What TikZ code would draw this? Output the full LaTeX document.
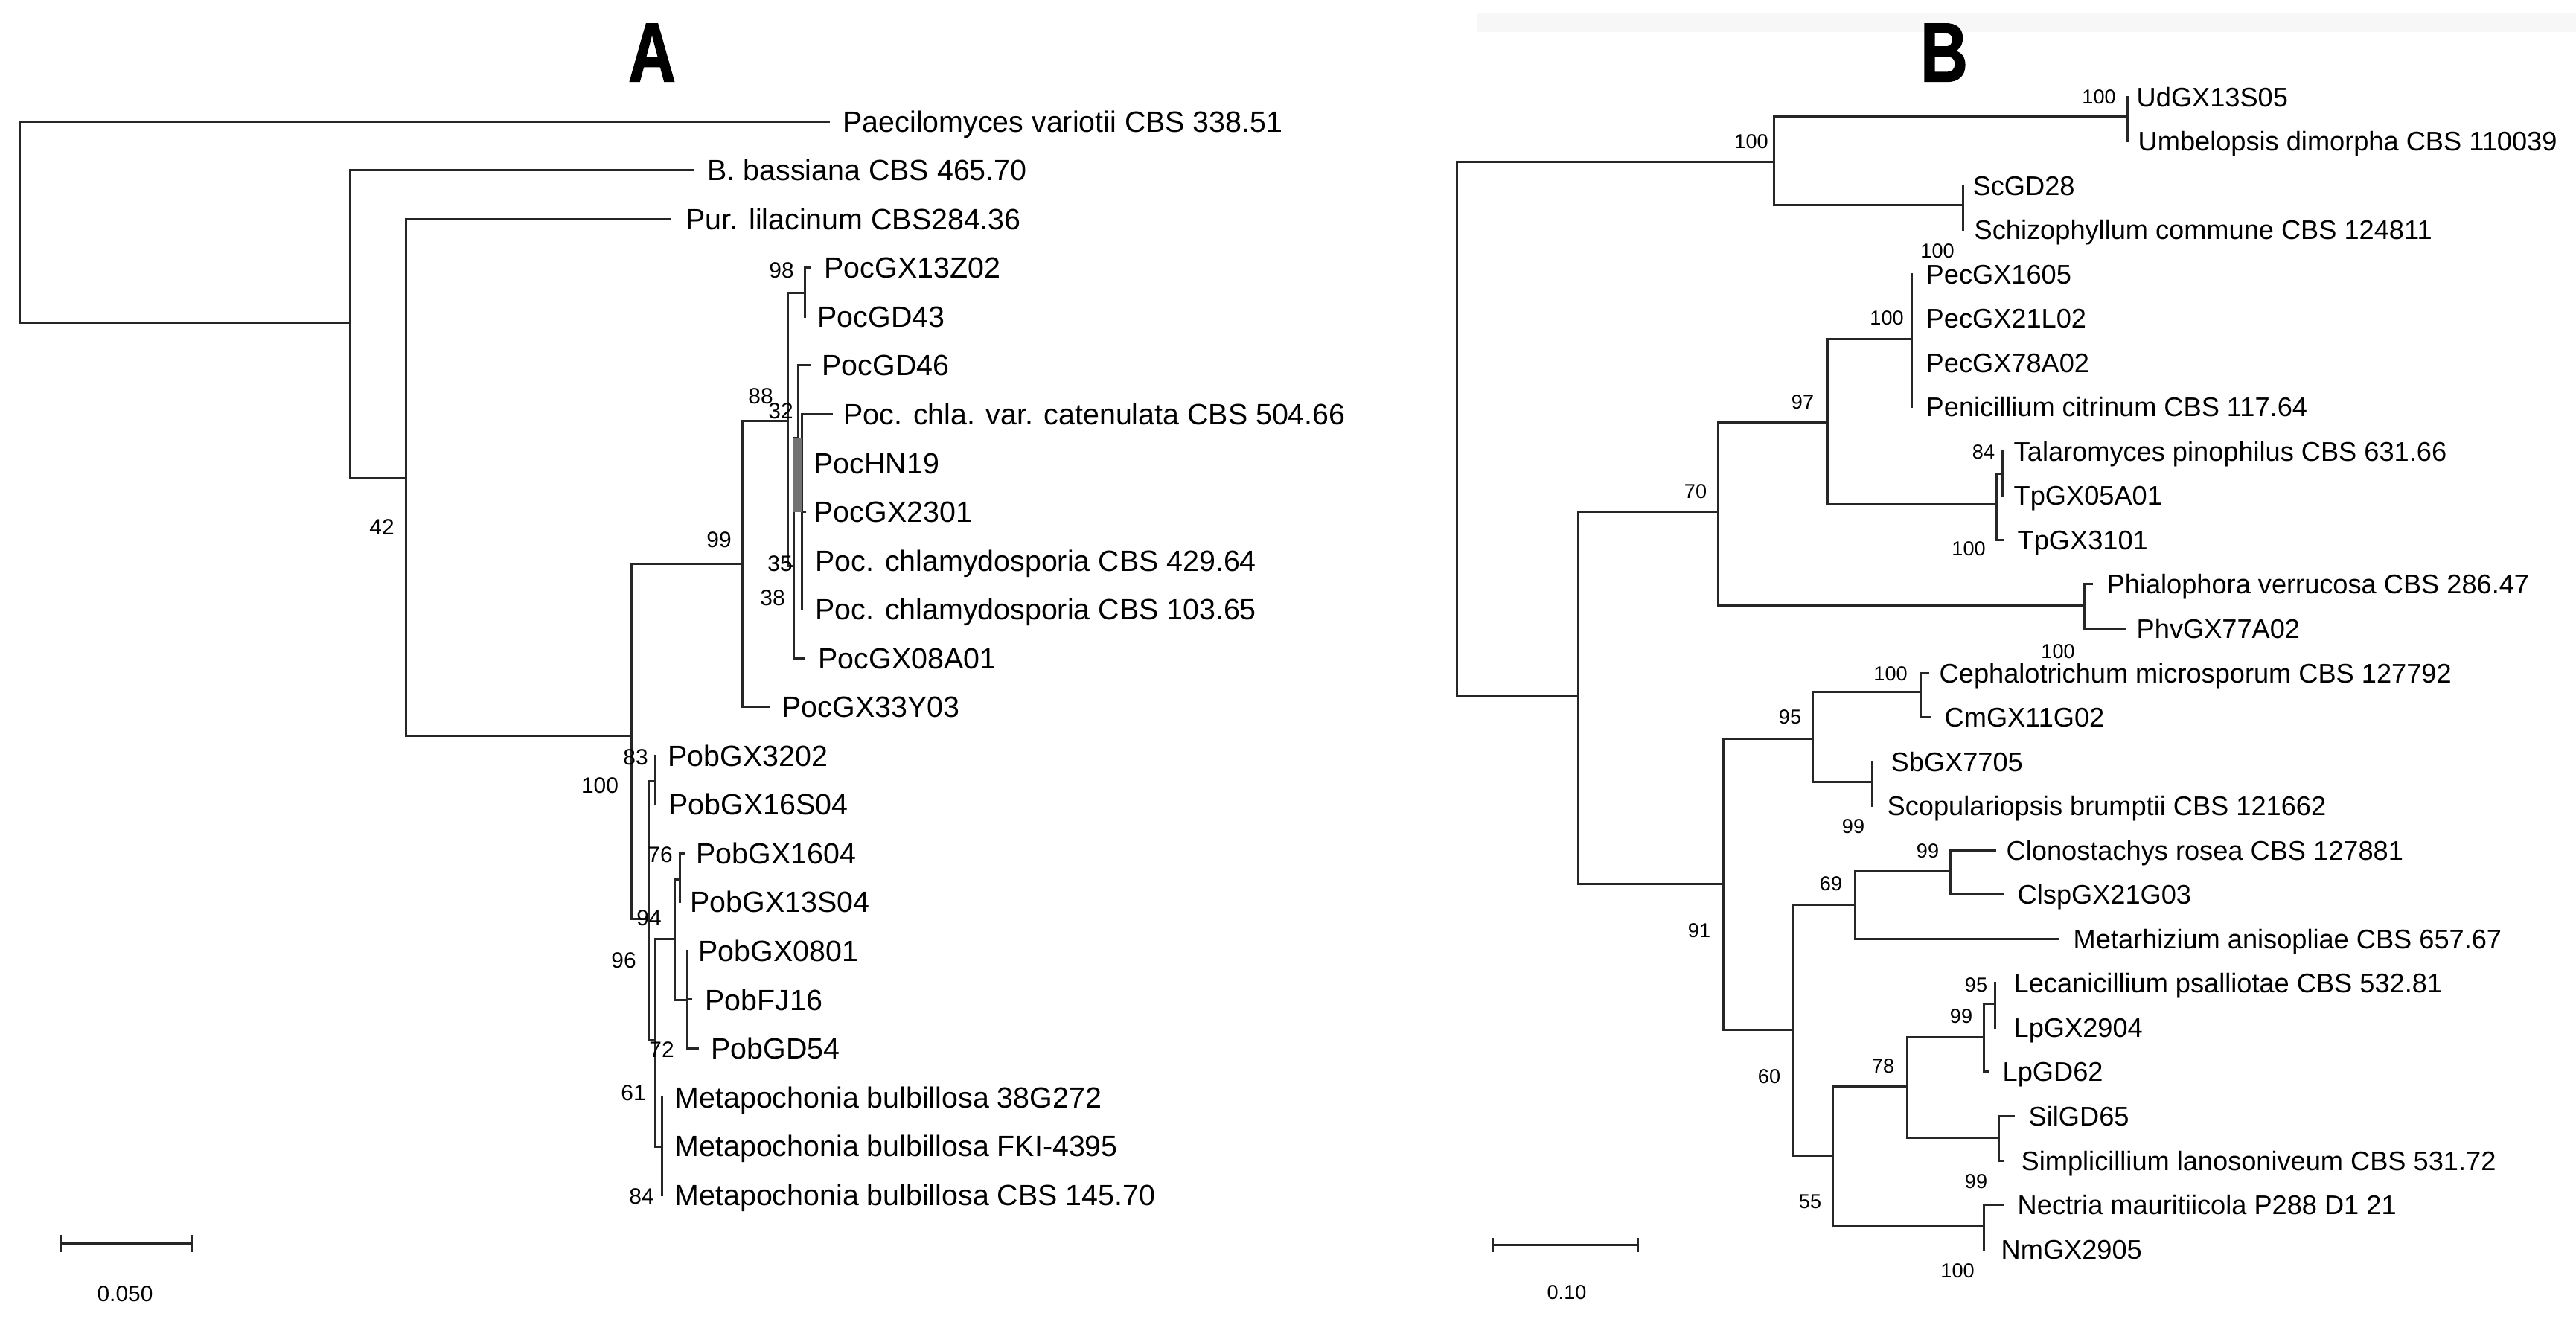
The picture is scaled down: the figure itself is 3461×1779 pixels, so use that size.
\documentclass[tikz,border=0pt]{standalone}
\usepackage{fontspec}
\setmainfont{Liberation Sans}
\newfontfamily\titlefont[FakeStretch=0.78, BoldFeatures={FakeBold=1.5}]{Liberation Sans}
\begin{document}
\begin{tikzpicture}[x=0.1mm,y=-0.1mm]
\tikzset{
 br/.style={line width=0.3mm, draw=black!85, line cap=rect},
 tipA/.style={font=\fontsize{11.2}{13}\selectfont, anchor=base west, inner sep=0pt, yshift=-1.41mm},
 tipB/.style={font=\fontsize{10.3}{12}\selectfont, anchor=base west, inner sep=0pt, yshift=-1.3mm},
 bsA/.style={font=\fontsize{8.5}{10}\selectfont, inner sep=0pt, text height=6.1pt, text depth=0pt, anchor=center},
 bsB/.style={font=\fontsize{7.7}{9}\selectfont, inner sep=0pt, text height=5.5pt, text depth=0pt, anchor=center},
 ttl/.style={font=\titlefont\bfseries\fontsize{32}{35}\selectfont, inner sep=0pt, text height=22.9pt, text depth=0pt, anchor=center},
}
\fill[white] (0,0) rectangle (3461,1779);
\useasboundingbox (0,0) rectangle (3461,1779);
\fill[black!3] (1985,17) rectangle (3461,43);

% ---------------- Titles
\node[ttl] (titleA) at (876,69) {A};
\node[ttl] (titleB) at (2612,69) {B};

% ================= TREE A =================
\coordinate (rA) at (26,298);
\coordinate (nA1) at (470,433);
\coordinate (nA2) at (545,642);
\coordinate (nA3) at (848,988);
\coordinate (nP99) at (997,757);
\coordinate (nP88) at (1058,565);
\coordinate (nP98) at (1081,393);
\coordinate (nP35) at (1066,760);
\coordinate (nP32) at (1072,588);
\coordinate (nP38) at (1077,640);
\coordinate (nPob) at (871,1234);
\coordinate (nP83) at (880,1049);
\coordinate (nP72) at (880,1397);
\coordinate (nP906) at (906,1261);
\coordinate (nP76) at (913,1181);
\coordinate (nP923) at (923,1343);
\coordinate (nMeta) at (889,1540);

% tips (line ends)
\coordinate (tPae) at (1113,163.0);
\coordinate (tBb) at (931,228.6);
\coordinate (tPur) at (900,294.1);
\coordinate (tP13) at (1088,359.7);
\coordinate (tP43) at (1081,425.2);
\coordinate (tP46) at (1087,490.8);
\coordinate (tPcat) at (1117,556.3);
\coordinate (tHN) at (1077,621.9);
\coordinate (tP23) at (1081,687.4);
\coordinate (tP429) at (1077,753.0);
\coordinate (tP103) at (1077,818.5);
\coordinate (tP08) at (1080,884.1);
\coordinate (tP33) at (1032,949.6);
\coordinate (tB32) at (880,1015.2);
\coordinate (tB16) at (880,1080.7);
\coordinate (tB1604) at (918,1146.3);
\coordinate (tB13) at (913,1211.8);
\coordinate (tB08) at (923,1277.4);
\coordinate (tBFJ) at (928,1342.9);
\coordinate (tBGD) at (937,1408.5);
\coordinate (tM38) at (889,1474.0);
\coordinate (tMF) at (889,1539.6);
\coordinate (tMC) at (889,1605.1);

% branches
\draw[br] (rA) |- (tPae);
\draw[br] (rA) |- (nA1);
\draw[br] (nA1) |- (tBb);
\draw[br] (nA1) |- (nA2);
\draw[br] (nA2) |- (tPur);
\draw[br] (nA2) |- (nA3);
\draw[br] (nA3) |- (nP99);
\draw[br] (nA3) |- (nPob);
\draw[br] (nP99) |- (nP88);
\draw[br] (nP99) |- (tP33);
\draw[br] (nP88) |- (nP98);
\draw[br] (nP88) |- (nP35);
\draw[br] (nP98) |- (tP13);
\draw[br] (nP98) |- (tP43);
\draw[br] (nP35) |- (nP32);
\draw[br] (nP35) |- (tP08);
\draw[br] (nP32) |- (tP46);
\draw[br] (nP32) |- (nP38);
\draw[br] (nP38) |- (tPcat);
\draw[br] (nP38) |- (tHN);
\draw[br] (nP38) |- (tP23);
\draw[br] (nP38) |- (tP429);
\draw[br] (nP38) |- (tP103);
\fill[black!55] (1065,588) rectangle (1077,688);
\draw[br] (nPob) |- (nP83);
\draw[br] (nPob) |- (nP72);
\draw[br] (nP83) |- (tB32);
\draw[br] (nP83) |- (tB16);
\draw[br] (nP72) |- (nP906);
\draw[br] (nP72) |- (nMeta);
\draw[br] (nP906) |- (nP76);
\draw[br] (nP906) |- (nP923);
\draw[br] (nP76) |- (tB1604);
\draw[br] (nP76) |- (tB13);
\draw[br] (nP923) |- (tB08);
\draw[br] (nP923) |- (tBFJ);
\draw[br] (nP923) |- (tBGD);
\draw[br] (nMeta) |- (tM38);
\draw[br] (nMeta) |- (tMF);
\draw[br] (nMeta) |- (tMC);

% tip labels
\node[tipA] (lPae) at (1132,163.0) {Paecilomyces variotii CBS 338.51};
\node[tipA] (lBb) at (950,228.6) {B. bassiana CBS 465.70};
\node[tipA] (lPur) at (921,294.1) {Pur. lilacinum CBS284.36};
\node[tipA] (lP13) at (1107,359.7) {PocGX13Z02};
\node[tipA] (lP43) at (1098,425.2) {PocGD43};
\node[tipA] (lP46) at (1104,490.8) {PocGD46};
\node[tipA] (lPcat) at (1133,556.3) {Poc. chla. var. catenulata CBS 504.66};
\node[tipA] (lHN) at (1093,621.9) {PocHN19};
\node[tipA] (lP23) at (1093,687.4) {PocGX2301};
\node[tipA] (lP429) at (1095,753.0) {Poc. chlamydosporia CBS 429.64};
\node[tipA] (lP103) at (1095,818.5) {Poc. chlamydosporia CBS 103.65};
\node[tipA] (lP08) at (1099,884.1) {PocGX08A01};
\node[tipA] (lP33) at (1050,949.6) {PocGX33Y03};
\node[tipA] (lB32) at (897,1015.2) {PobGX3202};
\node[tipA] (lB16) at (898,1080.7) {PobGX16S04};
\node[tipA] (lB1604) at (935,1146.3) {PobGX1604};
\node[tipA] (lB13) at (927,1211.8) {PobGX13S04};
\node[tipA] (lB08) at (938,1277.4) {PobGX0801};
\node[tipA] (lBFJ) at (947,1342.9) {PobFJ16};
\node[tipA] (lBGD) at (955,1408.5) {PobGD54};
\node[tipA] (lM38) at (906,1474.0) {Metapochonia bulbillosa 38G272};
\node[tipA] (lMF) at (906,1539.6) {Metapochonia bulbillosa FKI-4395};
\node[tipA] (lMC) at (906,1605.1) {Metapochonia bulbillosa CBS 145.70};

% bootstrap A
\node[bsA] (a42) at (513,708) {42};
\node[bsA] (a99) at (966,725) {99};
\node[bsA] (a98) at (1050,363) {98};
\node[bsA] (a88) at (1022,532) {88};
\node[bsA] (a32) at (1049,552) {32};
\node[bsA] (a35) at (1048,757) {35};
\node[bsA] (a38) at (1038,803) {38};
\node[bsA] (a83) at (854,1017) {83};
\node[bsA] (a100) at (806,1055) {100};
\node[bsA] (a76) at (887,1148) {76};
\node[bsA] (a94) at (872,1233) {94};
\node[bsA] (a96) at (838,1290) {96};
\node[bsA] (a72) at (889,1410) {72};
\node[bsA] (a61) at (851,1468) {61};
\node[bsA] (a84) at (862,1607) {84};

% scale A
\coordinate (sA1) at (81,1670);
\coordinate (sA2) at (257,1670);
\draw[br] (sA1) -- (sA2);
\draw[br] ([yshift=1mm]sA1) -- ([yshift=-1mm]sA1);
\draw[br] ([yshift=1mm]sA2) -- ([yshift=-1mm]sA2);
\node[bsA] (scA) at (168,1738) {0.050};

% ================= TREE B =================
\coordinate (rB) at (1957,576);
\coordinate (nU) at (2383,217);
\coordinate (nUd) at (2858,156);
\coordinate (nSc) at (2637,275);
\coordinate (nB2) at (2120,935);
\coordinate (n70) at (2308,687);
\coordinate (n97) at (2455,567);
\coordinate (nPec) at (2568,455);
\coordinate (nT100) at (2682,677);
\coordinate (nT84) at (2690,636);
\coordinate (nPh) at (2800,813);
\coordinate (n91) at (2315,1187);
\coordinate (n95) at (2435,992);
\coordinate (nCe) at (2580,929);
\coordinate (nSb) at (2515,1050);
\coordinate (n60) at (2408,1383);
\coordinate (n69) at (2492,1215);
\coordinate (nCl) at (2620,1170);
\coordinate (n55) at (2462,1552);
\coordinate (n78) at (2562,1459);
\coordinate (nL99) at (2665,1393);
\coordinate (nL95) at (2680,1348);
\coordinate (nSi) at (2685,1528);
\coordinate (nNm) at (2665,1646);

\coordinate (tUd) at (2858,130.0);
\coordinate (tUm) at (2858,189.5);
\coordinate (tSc) at (2637,249.1);
\coordinate (tSch) at (2637,308.6);
\coordinate (tPe1) at (2568,368.2);
\coordinate (tPe2) at (2568,427.7);
\coordinate (tPe3) at (2568,487.2);
\coordinate (tPe4) at (2568,546.8);
\coordinate (tTal) at (2690,606.3);
\coordinate (tTp05) at (2690,665.9);
\coordinate (tTp31) at (2690,725.4);
\coordinate (tPhi) at (2810,784.9);
\coordinate (tPhv) at (2855,844.5);
\coordinate (tCe) at (2590,904.0);
\coordinate (tCm) at (2592,963.6);
\coordinate (tSb) at (2515,1023.1);
\coordinate (tSco) at (2515,1082.6);
\coordinate (tClo) at (2680,1142.2);
\coordinate (tCls) at (2690,1201.7);
\coordinate (tMet) at (2765,1261.3);
\coordinate (tLec) at (2680,1320.8);
\coordinate (tLp29) at (2680,1380.3);
\coordinate (tLp62) at (2670,1439.9);
\coordinate (tSil) at (2705,1499.4);
\coordinate (tSim) at (2690,1559.0);
\coordinate (tNec) at (2690,1618.5);
\coordinate (tNm) at (2665,1678.0);

\draw[br] (rB) |- (nU);
\draw[br] (rB) |- (nB2);
\draw[br] (nU) |- (nUd);
\draw[br] (nU) |- (nSc);
\draw[br] (nUd) |- (tUd);
\draw[br] (nUd) |- (tUm);
\draw[br] (nSc) |- (tSc);
\draw[br] (nSc) |- (tSch);
\draw[br] (nB2) |- (n70);
\draw[br] (nB2) |- (n91);
\draw[br] (n70) |- (n97);
\draw[br] (n70) |- (nPh);
\draw[br] (n97) |- (nPec);
\draw[br] (n97) |- (nT100);
\draw[br] (nPec) |- (tPe1);
\draw[br] (nPec) |- (tPe2);
\draw[br] (nPec) |- (tPe3);
\draw[br] (nPec) |- (tPe4);
\draw[br] (nT100) |- (nT84);
\draw[br] (nT100) |- (tTp31);
\draw[br] (nT84) |- (tTal);
\draw[br] (nT84) |- (tTp05);
\draw[br] (nPh) |- (tPhi);
\draw[br] (nPh) |- (tPhv);
\draw[br] (n91) |- (n95);
\draw[br] (n91) |- (n60);
\draw[br] (n95) |- (nCe);
\draw[br] (n95) |- (nSb);
\draw[br] (nCe) |- (tCe);
\draw[br] (nCe) |- (tCm);
\draw[br] (nSb) |- (tSb);
\draw[br] (nSb) |- (tSco);
\draw[br] (n60) |- (n69);
\draw[br] (n60) |- (n55);
\draw[br] (n69) |- (nCl);
\draw[br] (n69) |- (tMet);
\draw[br] (nCl) |- (tClo);
\draw[br] (nCl) |- (tCls);
\draw[br] (n55) |- (n78);
\draw[br] (n55) |- (nNm);
\draw[br] (n78) |- (nL99);
\draw[br] (n78) |- (nSi);
\draw[br] (nL99) |- (nL95);
\draw[br] (nL99) |- (tLp62);
\draw[br] (nL95) |- (tLec);
\draw[br] (nL95) |- (tLp29);
\draw[br] (nSi) |- (tSil);
\draw[br] (nSi) |- (tSim);
\draw[br] (nNm) |- (tNec);
\draw[br] (nNm) |- (tNm);

\node[tipB] (lUd) at (2870,130.0) {UdGX13S05};
\node[tipB] (lUm) at (2872,189.5) {Umbelopsis dimorpha CBS 110039};
\node[tipB] (lSc) at (2650,249.1) {ScGD28};
\node[tipB] (lSch) at (2652,308.6) {Schizophyllum commune CBS 124811};
\node[tipB] (lPe1) at (2587,368.2) {PecGX1605};
\node[tipB] (lPe2) at (2587,427.7) {PecGX21L02};
\node[tipB] (lPe3) at (2587,487.2) {PecGX78A02};
\node[tipB] (lPe4) at (2587,546.8) {Penicillium citrinum CBS 117.64};
\node[tipB] (lTal) at (2705,606.3) {Talaromyces pinophilus CBS 631.66};
\node[tipB] (lTp05) at (2705,665.9) {TpGX05A01};
\node[tipB] (lTp31) at (2710,725.4) {TpGX3101};
\node[tipB] (lPhi) at (2830,784.9) {Phialophora verrucosa CBS 286.47};
\node[tipB] (lPhv) at (2870,844.5) {PhvGX77A02};
\node[tipB] (lCe) at (2605,904.0) {Cephalotrichum microsporum CBS 127792};
\node[tipB] (lCm) at (2612,963.6) {CmGX11G02};
\node[tipB] (lSb) at (2540,1023.1) {SbGX7705};
\node[tipB] (lSco) at (2535,1082.6) {Scopulariopsis brumptii CBS 121662};
\node[tipB] (lClo) at (2695,1142.2) {Clonostachys rosea CBS 127881};
\node[tipB] (lCls) at (2710,1201.7) {ClspGX21G03};
\node[tipB] (lMet) at (2785,1261.3) {Metarhizium anisopliae CBS 657.67};
\node[tipB] (lLec) at (2705,1320.8) {Lecanicillium psalliotae CBS 532.81};
\node[tipB] (lLp29) at (2705,1380.3) {LpGX2904};
\node[tipB] (lLp62) at (2690,1439.9) {LpGD62};
\node[tipB] (lSil) at (2725,1499.4) {SilGD65};
\node[tipB] (lSim) at (2715,1559.0) {Simplicillium lanosoniveum CBS 531.72};
\node[tipB] (lNec) at (2710,1618.5) {Nectria mauritiicola P288 D1 21};
\node[tipB] (lNm) at (2688,1678.0) {NmGX2905};

\node[bsB] (b1) at (2820,130) {100};
\node[bsB] (b2) at (2353,190) {100};
\node[bsB] (b3) at (2603,337) {100};
\node[bsB] (b4) at (2535,427) {100};
\node[bsB] (b5) at (2422,540) {97};
\node[bsB] (b6) at (2665,607) {84};
\node[bsB] (b7) at (2278,660) {70};
\node[bsB] (b8) at (2645,737) {100};
\node[bsB] (b9) at (2765,875) {100};
\node[bsB] (b10) at (2540,905) {100};
\node[bsB] (b11) at (2405,963) {95};
\node[bsB] (b12) at (2490,1110) {99};
\node[bsB] (b13) at (2590,1143) {99};
\node[bsB] (b14) at (2460,1187) {69};
\node[bsB] (b15) at (2283,1250) {91};
\node[bsB] (b16) at (2655,1323) {95};
\node[bsB] (b17) at (2635,1365) {99};
\node[bsB] (b18) at (2530,1432) {78};
\node[bsB] (b19) at (2377,1446) {60};
\node[bsB] (b20) at (2432,1614) {55};
\node[bsB] (b21) at (2655,1587) {99};
\node[bsB] (b22) at (2630,1707) {100};

\coordinate (sB1) at (2005,1672);
\coordinate (sB2) at (2200,1672);
\draw[br] (sB1) -- (sB2);
\draw[br] ([yshift=0.8mm]sB1) -- ([yshift=-0.8mm]sB1);
\draw[br] ([yshift=0.8mm]sB2) -- ([yshift=-0.8mm]sB2);
\node[bsB] (scB) at (2105,1736) {0.10};
\end{tikzpicture}
\end{document}
